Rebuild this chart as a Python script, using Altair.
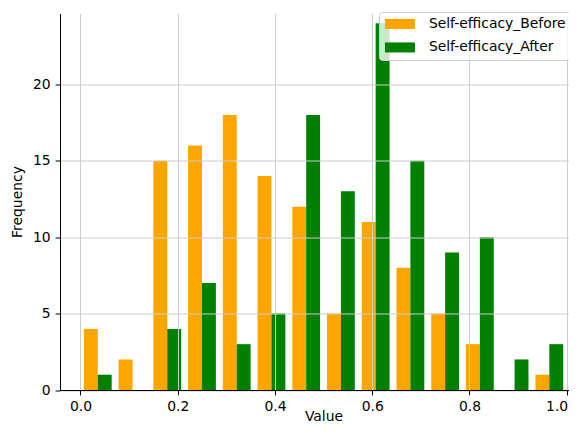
import altair as alt
import pandas as pd

bin_edges_start = [i / 14 for i in range(14)]
bin_width = 1 / 14
before_counts = [4, 2, 15, 16, 18, 14, 12, 5, 11, 8, 5, 3, 0, 1]
after_counts = [1, 0, 4, 7, 3, 5, 18, 13, 24, 15, 9, 10, 2, 3]
series_names = ["Self-efficacy_Before", "Self-efficacy_After"]
x_ticks = [0.0, 0.2, 0.4, 0.6, 0.8, 1.0]
y_ticks = [0, 5, 10, 15, 20]

rows = []
for s_idx, (name, counts) in enumerate(zip(series_names, [before_counts, after_counts])):
    for b, c in zip(bin_edges_start, counts):
        rows.append({"bin": b, "series": name, "sidx": s_idx, "count": c})
df = pd.DataFrame(rows)

FONT = "DejaVu Sans"
FS = 13.9

bars = (
    alt.Chart(df)
    .transform_calculate(
        x0=f"datum.bin + {bin_width} * (0.1 + 0.4 * datum.sidx)",
        x1=f"datum.bin + {bin_width} * (0.5 + 0.4 * datum.sidx)",
    )
    .mark_rect(clip=True)
    .encode(
        x=alt.X(
            "x0:Q",
            scale=alt.Scale(domain=[-0.042, 1.0212], nice=False, zero=False),
            axis=alt.Axis(
                values=x_ticks,
                format=".1f",
                title="Value",
                grid=True,
                gridColor="#cccccc",
                gridWidth=1,
                domainColor="#000000",
                tickColor="#000000",
                tickSize=4.9,
                labelPadding=4.9,
                labelFont=FONT,
                labelFontSize=FS,
                labelColor="#000000",
                labelAlign={
                    "condition": {"test": "datum.value >= 0.99", "value": "right"},
                    "value": "center",
                },
                labelOffset={
                    "condition": {"test": "datum.value >= 0.99", "value": 1},
                    "value": 0,
                },
                titleFont=FONT,
                titleFontSize=FS,
                titleFontWeight="normal",
                titleColor="#000000",
                titleX=263.5,
                titleY=30.5,
                titleBaseline="alphabetic",
                zindex=1,
            ),
        ),
        x2="x1:Q",
        y=alt.Y(
            "count:Q",
            scale=alt.Scale(domain=[0, 24.64], nice=False),
            axis=alt.Axis(
                values=y_ticks,
                title="Frequency",
                grid=True,
                gridColor="#cccccc",
                gridWidth=1,
                domainColor="#000000",
                tickColor="#000000",
                tickSize=4.9,
                labelPadding=4.9,
                labelFont=FONT,
                labelFontSize=FS,
                labelColor="#000000",
                titleFont=FONT,
                titleFontSize=FS,
                titleFontWeight="normal",
                titleColor="#000000",
                titleX=-43,
                titleY=188,
                titleAngle=270,
                titleAlign="center",
                titleBaseline="middle",
                zindex=1,
            ),
        ),
        y2=alt.datum(0),
        color=alt.Color(
            "series:N",
            scale=alt.Scale(domain=series_names, range=["#FFA500", "#008000"]),
            legend=alt.Legend(
                title=None,
                orient="none",
                legendX=319,
                legendY=-1.5,
                symbolType="M-1,-0.8333H4V0.8333H-1Z",
                symbolSize=144,
                symbolStrokeWidth=0,
                symbolOpacity=1,
                labelFont=FONT,
                labelFontSize=FS,
                labelColor="#000000",
                labelOffset=31,
                rowPadding=8.5,
                padding=5,
                fillColor="rgba(255,255,255,0.8)",
                strokeColor="#cccccc",
                cornerRadius=3,
                zindex=2,
            ),
        ),
    )
)

chart = bars.properties(
    width=517,
    height=376.5,
    padding={"left": 52, "top": 5.5, "right": -8, "bottom": 34},
    autosize=alt.AutoSizeParams(type="none"),
).configure_view(stroke=None).configure_axis(domainWidth=1)

chart.save("out.html", embed_options={"renderer": "svg", "actions": False})
